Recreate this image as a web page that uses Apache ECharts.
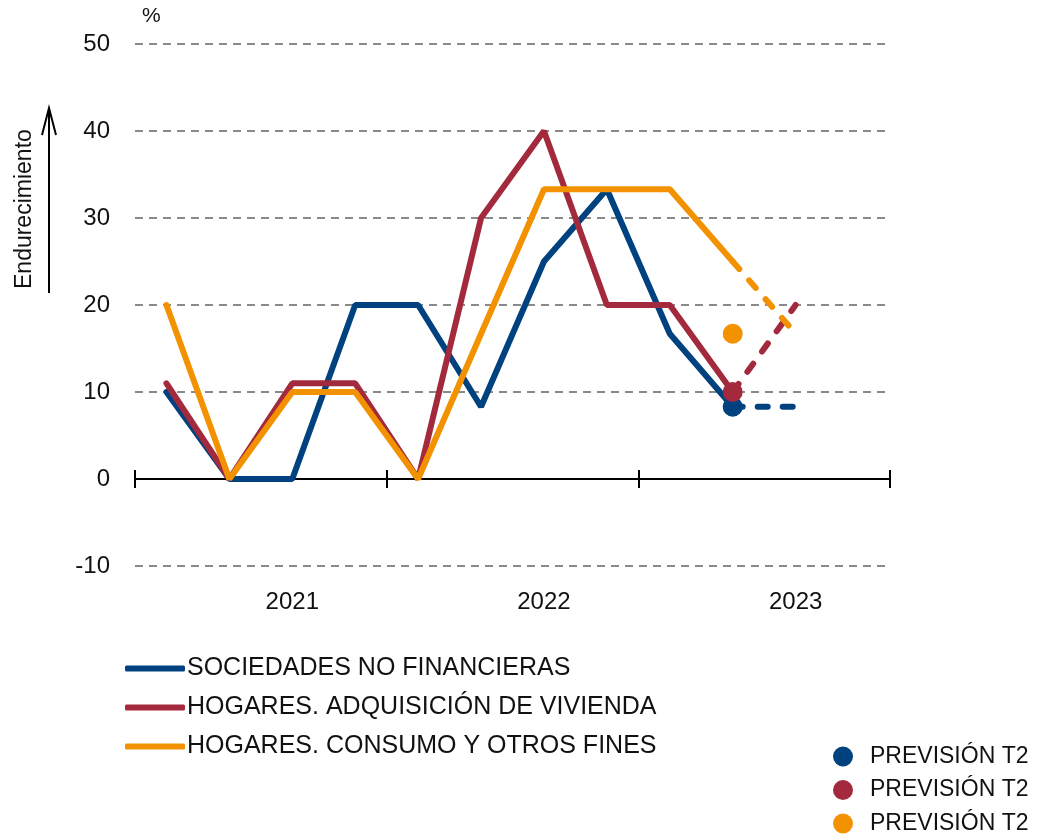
<!DOCTYPE html>
<html>
<head>
<meta charset="utf-8">
<script src="https://cdn.jsdelivr.net/npm/echarts@6/dist/echarts.min.js"></script>
<style>
  html, body { margin: 0; padding: 0; background: #fff; }
  #chart { width: 1047px; height: 837px; }
</style>
</head>
<body>
<div id="chart"></div>
<script>
// trimestres 2021-2023
var quarters = ['2021-T1', '2021-T2', '2021-T3', '2021-T4',
                '2022-T1', '2022-T2', '2022-T3', '2022-T4',
                '2023-T1', '2023-T2', '2023-T3', '2023-T4'];
var yTicks = [-10, 0, 10, 20, 30, 40, 50];

var sociedades = [10, 0, 0, 20, 20, 8.3, 25, 33.3, 16.7, 8.3, null, null];
var vivienda   = [11, 0, 11, 11, 0, 30, 40, 20, 20, 10, null, null];
var consumo    = [20, 0, 10, 10, 0, 16.7, 33.3, 33.3, 33.3, 25, null, null];

// tramo previsto (discontinuo)
var sociedadesPrev = [null, null, null, null, null, null, null, null, null, 8.3, 8.3, null];
var viviendaPrev   = [null, null, null, null, null, null, null, null, null, 10, 20, null];
var consumoPrev    = [null, null, null, null, null, null, null, null, null, 25, 16.7, null];

// previsión T2 (puntos)
var prevSociedades = [null, null, null, null, null, null, null, null, null, 8.3, null, null];
var prevVivienda   = [null, null, null, null, null, null, null, null, null, 10, null, null];
var prevConsumo    = [null, null, null, null, null, null, null, null, null, 16.7, null, null];

var names = ['SOCIEDADES NO FINANCIERAS', 'HOGARES. ADQUISICIÓN DE VIVIENDA', 'HOGARES. CONSUMO Y OTROS FINES'];
var prevName = 'PREVISIÓN T2';
var colors = ['#00427f', '#a32a3d', '#f39200'];

var font = '"Liberation Sans", Arial, Helvetica, sans-serif';
var myChart = echarts.init(document.getElementById('chart'));

function solid(i, data) {
    return {
        name: names[i], type: 'line', data: data, symbol: 'none',
        color: colors[i],
        lineStyle: { width: 6, color: colors[i], cap: 'round' },
        z: 3
    };
}
function dashed(i, data) {
    return {
        name: names[i] + '_p', type: 'line', data: data, symbol: 'none',
        color: colors[i],
        lineStyle: { width: 6, color: colors[i], type: [10, 15], cap: 'round' },
        z: 3
    };
}
function dot(i, data) {
    return {
        name: 'prev' + i, type: 'scatter', data: data, symbol: 'circle',
        symbolSize: 20, color: colors[i],
        itemStyle: { color: colors[i], opacity: 1 }, z: 4 + i
    };
}
// una leyenda por punto (mismo texto en las tres)
function prevLegend(i) {
    return {
        orient: 'vertical', left: 833, top: 745 + i * 33.5, padding: 0,
        data: ['prev' + i], icon: 'circle',
        itemWidth: 20, itemHeight: 20,
        itemStyle: { opacity: 1 },
        formatter: function () { return prevName; },
        textStyle: { fontSize: 23, color: '#111', fontFamily: font, lineHeight: 20, padding: [0, 0, 0, 12] }
    };
}

var grid = { left: 135, right: 157, top: 44, bottom: 271 };

var option = {
    backgroundColor: '#fff',
    animation: false,
    textStyle: { fontFamily: font },
    grid: [grid, grid],
    legend: [{
        orient: 'vertical', left: 125, top: 656, padding: 0,
        data: names, icon: 'roundRect',
        itemWidth: 60, itemHeight: 6, itemGap: 14,
        textStyle: { fontSize: 25, color: '#111', fontFamily: font, lineHeight: 24, padding: [0, 0, 0, -3] }
    }, prevLegend(0), prevLegend(1), prevLegend(2)],
    xAxis: [{
        // etiquetas de año abajo
        type: 'category', data: quarters, gridIndex: 0, position: 'bottom',
        axisLine: { show: false, onZero: false },
        axisTick: { show: false },
        axisLabel: {
            interval: function (index) { return index % 4 === 2; },
            formatter: function (v) { return v.slice(0, 4); },
            fontSize: 24, color: '#111', margin: 24, fontFamily: font
        }
    }, {
        // eje en cero, marcas hacia abajo
        type: 'category', data: quarters, gridIndex: 0, position: 'bottom',
        axisLine: { show: true, onZero: true, lineStyle: { color: '#000', width: 2 } },
        axisTick: { show: true, interval: 3, length: 9, lineStyle: { color: '#000', width: 2 } },
        axisLabel: { show: false }
    }, {
        // marcas hacia arriba
        type: 'category', data: quarters, gridIndex: 1, position: 'bottom',
        axisLine: { show: true, onZero: true, lineStyle: { color: '#000', width: 2 } },
        axisTick: { show: true, inside: true, interval: 3, length: 9, lineStyle: { color: '#000', width: 2 } },
        axisLabel: { show: false }
    }],
    yAxis: [{
        type: 'value', gridIndex: 0, min: yTicks[0], max: yTicks[yTicks.length - 1], interval: 10,
        name: '%', nameLocation: 'end', nameGap: 17,
        nameTextStyle: { fontSize: 21, color: '#111', align: 'left', padding: [0, 0, 0, 7], fontFamily: font },
        axisLine: { show: false },
        axisTick: { show: false },
        axisLabel: { fontSize: 24, color: '#111', margin: 25, fontFamily: font },
        splitLine: { lineStyle: { color: '#8a8a8a', width: 2, type: [8, 6] } }
    }, {
        type: 'value', gridIndex: 1, min: yTicks[0], max: yTicks[yTicks.length - 1], interval: 10,
        show: false
    }],
    graphic: [{
        type: 'text', x: 25, y: 289, rotation: Math.PI / 2, z: 10,
        style: { text: 'Endurecimiento', font: '23px ' + font, fill: '#111', textAlign: 'left', textVerticalAlign: 'middle' }
    }, {
        type: 'line', shape: { x1: 49, y1: 293, x2: 49, y2: 109 },
        style: { stroke: '#000', lineWidth: 2 }
    }, {
        type: 'polyline', shape: { points: [[42, 135], [49, 108], [56, 135]] },
        style: { stroke: '#000', lineWidth: 2, fill: null }
    }],
    series: [
        solid(0, sociedades), solid(1, vivienda), solid(2, consumo),
        dashed(0, sociedadesPrev), dashed(1, viviendaPrev), dashed(2, consumoPrev),
        dot(0, prevSociedades), dot(1, prevVivienda), dot(2, prevConsumo)
    ]
};
myChart.setOption(option);
</script>
</body>
</html>
